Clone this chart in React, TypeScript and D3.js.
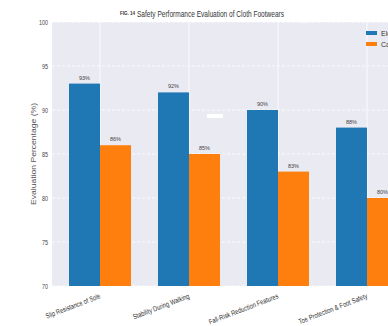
import React from "react";
import * as d3 from "d3";

const categories = [
  "Slip Resistance of Sole",
  "Stability During Walking",
  "Fall-Risk Reduction Features",
  "Toe Protection & Foot Safety",
];
const seriesNames = ["Elderly-Specific Cloth Footwear", "Casual Cloth Footwear"];
const elderlyValues = [93, 92, 90, 88];
const casualValues = [86, 85, 83, 80];
const yTicks = [70, 75, 80, 85, 90, 95, 100];
const colors = ["#1f77b4", "#ff7f0e"];
// rendered length of each rotated category label
const labelLengths = [58, 60, 74, 73];

const W = 388;
const H = 326;
const plotLeft = 52;
const plotTop = 22;
const plotBottom = 286;
const catStep = 89;
const firstCenter = 100;
const barW = 31;

const font = "'Liberation Sans Narrow', 'Liberation Sans', Arial, sans-serif";

export default function App() {
  const y = d3.scaleLinear().domain([70, 100]).range([plotBottom, plotTop]);
  // category index -> pixel position of the group centre
  const x = d3
    .scaleLinear()
    .domain([0, 1])
    .range([firstCenter, firstCenter + catStep]);

  const series = [elderlyValues, casualValues];

  return (
    <svg
      width={W}
      height={H}
      style={{ position: "absolute", left: 0, top: 0, background: "#fff" }}
    >
      <rect
        x={plotLeft}
        y={plotTop}
        width={W - plotLeft}
        height={plotBottom - plotTop}
        fill="#eaeaf2"
      />
      {yTicks.map((t) => (
        <line
          key={"gy" + t}
          x1={plotLeft}
          x2={W}
          y1={y(t)}
          y2={y(t)}
          stroke="#fff"
          strokeWidth={0.8}
          strokeDasharray="3,2"
        />
      ))}
      {categories.map((c, i) => (
        <line
          key={"gx" + i}
          x1={x(i)}
          x2={x(i)}
          y1={plotTop}
          y2={plotBottom}
          stroke="#fff"
          strokeWidth={0.8}
        />
      ))}
      {series.map((vals, s) =>
        vals.map((v, i) => {
          const x0 = s === 0 ? x(i) - barW : x(i);
          return (
            <g key={`b${s}-${i}`}>
              <rect
                x={x0}
                y={y(v)}
                width={barW}
                height={plotBottom - y(v)}
                fill={colors[s]}
              />
              <text
                x={x0 + barW / 2}
                y={y(v) - 4}
                textAnchor="middle"
                fontSize={5.5}
                fontFamily={font}
                fill="#444"
              >
                {v}%
              </text>
            </g>
          );
        })
      )}
      {/* stray white marks */}
      <rect x={207} y={114} width={16} height={4} fill="#fff" />
      <rect x={300} y={20} width={8} height={2.5} fill="#fff" />

      {yTicks.map((t) => (
        <text
          key={"ty" + t}
          x={48}
          y={y(t) + 2.5}
          textAnchor="end"
          fontSize={6.5}
          fontFamily={font}
          fill="#444"
          textLength={t === 100 ? 9 : 6}
          lengthAdjust="spacingAndGlyphs"
        >
          {t}
        </text>
      ))}
      {categories.map((c, i) => (
        <text
          key={"tx" + i}
          transform={`translate(${x(i) + 1},${298}) rotate(-21)`}
          textAnchor="end"
          fontSize={7.3}
          fontFamily={font}
          fill="#333"
          textLength={labelLengths[i]}
          lengthAdjust="spacingAndGlyphs"
        >
          {c}
        </text>
      ))}
      <text
        transform={`translate(36,${154}) rotate(-90)`}
        textAnchor="middle"
        fontSize={8}
        fontFamily="'Liberation Sans', Arial, sans-serif"
        fill="#555"
        textLength={102}
        lengthAdjust="spacingAndGlyphs"
      >
        Evaluation Percentage (%)
      </text>
      <text x={120} y={15} fontSize={4.5} fontWeight="bold" fontFamily={font} fill="#333">
        FIG. 14
      </text>
      <text
        x={137}
        y={17}
        fontSize={9.5}
        fontFamily={font}
        fill="#333"
        textLength={147}
        lengthAdjust="spacingAndGlyphs"
      >
        Safety Performance Evaluation of Cloth Footwears
      </text>
      {seriesNames.map((n, s) => (
        <g key={"lg" + s}>
          <rect x={366} y={31 + s * 11} width={11} height={4} fill={colors[s]} />
          <text x={381} y={35.5 + s * 11} fontSize={7} fontFamily={font} fill="#333">
            {n}
          </text>
        </g>
      ))}
    </svg>
  );
}
